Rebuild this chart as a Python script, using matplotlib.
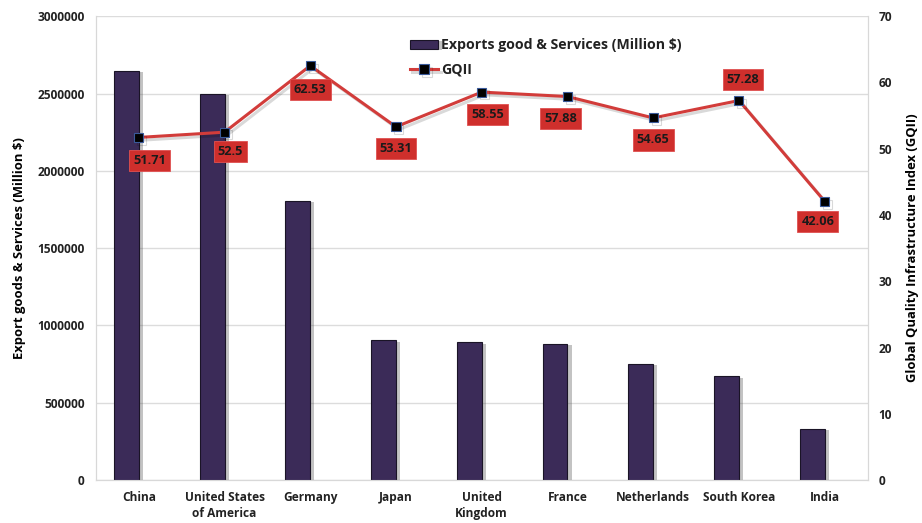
import matplotlib
matplotlib.use("Agg")
import matplotlib.pyplot as plt
import matplotlib.patheffects as pe
from matplotlib.ticker import FuncFormatter
import numpy as np

plt.rcParams['font.family'] = ['Open Sans', 'DejaVu Sans']
plt.rcParams['font.weight'] = 'bold'

# exports (million $) and GQII score per country
countries = ['China', 'United States\nof America', 'Germany', 'Japan', 'United\nKingdom',
             'France', 'Netherlands', 'South Korea', 'India']
exports = [2645000, 2499000, 1808000, 904000, 891000, 883000, 752000, 671000, 333000]
gqii = [51.71, 52.5, 62.53, 53.31, 58.55, 57.88, 54.65, 57.28, 42.06]

# where each value box sits relative to its marker (pixels)
label_offsets = [(11, -23), (6, -19), (0, -24), (0, -22), (6, -22), (-7, -22), (0, -22), (4, 21), (-7, -20)]

bar_color = '#3b2b58'
line_color = '#d23c3a'
box_color = '#cf2f2c'

fig = plt.figure(figsize=(9.22, 5.23), dpi=100)
ax = fig.add_axes([0.104, 0.082, 0.837, 0.887])
ax2 = ax.twinx()

x = np.arange(len(countries))
shadow = [pe.SimplePatchShadow(offset=(3, -1), shadow_rgbFace='#555555', alpha=0.35), pe.Normal()]
bars = ax.bar(x, exports, width=-0.29, align='edge', color=bar_color,
              edgecolor='#1a1426', linewidth=0.8, label='Exports good & Services (Million $)',
              zorder=3)
for b in bars:
    b.set_path_effects(shadow)

ax.set_xlim(-0.5, len(countries) - 0.5)
ax.set_ylim(0, 3000000)
ax.set_yticks(np.arange(0, 3000001, 500000))
ax.yaxis.set_major_formatter(FuncFormatter(lambda v, p: f'{int(v)}'))
ax.yaxis.grid(True, color='#dcdcdc', linewidth=1.0, zorder=0)
ax.set_axisbelow(True)
ax.set_xticks(x)
ax.set_xticklabels(countries, fontsize=8.6, fontweight='bold', color='#222222', linespacing=1.25)
ax.tick_params(axis='both', length=0, pad=8)
ax.tick_params(axis='y', labelsize=8.6, labelcolor='#222222')
ax.set_ylabel('Export goods & Services (Million $)', fontsize=9.4, fontweight='bold', labelpad=8)

ax2.plot(x, gqii, color=line_color, linewidth=2.2, marker='s', markersize=6.5,
         markerfacecolor='black', markeredgecolor='#3a5a9a', markeredgewidth=0.8,
         label='GQII', zorder=5,
         path_effects=[pe.SimpleLineShadow(offset=(2, -2), alpha=0.15), pe.Normal()])
ax2.set_ylim(0, 70)
ax2.set_yticks(np.arange(0, 71, 10))
ax2.tick_params(axis='y', length=0, pad=8, labelsize=8.6, labelcolor='#222222')
ax2.set_ylabel('Global Quality Infrastructure Index (GQII)', fontsize=9.4, fontweight='bold',
               labelpad=10)

for xi, v, (dx, dy) in zip(x, gqii, label_offsets):
    ax2.annotate(f'{v:g}', (xi, v), xytext=(dx, dy), textcoords='offset pixels',
                 ha='center', va='center', fontsize=9.2, fontweight='bold', color='#1a1a1a',
                 bbox=dict(boxstyle='square,pad=0.32', facecolor=box_color, edgecolor='#e05050',
                           linewidth=0.6), zorder=6)

for a in (ax, ax2):
    a.spines['top'].set_visible(False)
    for side in ('left', 'right', 'bottom'):
        a.spines[side].set_color('#d8d8d8')

h1, l1 = ax.get_legend_handles_labels()
h2, l2 = ax2.get_legend_handles_labels()
leg = ax2.legend(h1 + h2, l1 + l2, loc='upper left', bbox_to_anchor=(0.39, 0.98), frameon=False,
                 fontsize=10.2, handlelength=2.0, handleheight=0.6, labelspacing=0.75,
                 handletextpad=0.2, markerscale=1.1)
for t in leg.get_texts():
    t.set_fontweight('bold')
    t.set_color('#222222')

fig.savefig('out.png', dpi=100)
